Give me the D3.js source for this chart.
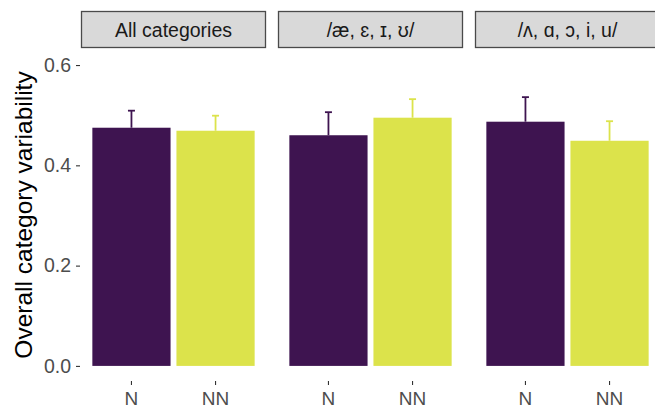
<!DOCTYPE html>
<html>
<head>
<meta charset="utf-8">
<script src="https://cdn.jsdelivr.net/npm/d3@7"></script>
<style>
  body { margin: 0; background: #fff; }
  svg { display: block; font-family: "Liberation Sans", Arial, sans-serif; }
</style>
</head>
<body>
<svg id="chart"></svg>
<script>
// facets and groups
const facets = ["All categories", "/æ, ɛ, ɪ, ʊ/", "/ʌ, ɑ, ɔ, i, u/"];
const groups = ["N", "NN"];
// mean variability per facet
const meanN = [0.475, 0.460, 0.487];
const meanNN = [0.469, 0.495, 0.449];
// upper end of error bars
const upperN = [0.509, 0.506, 0.536];
const upperNN = [0.499, 0.532, 0.488];
const yTicks = [0.0, 0.2, 0.4, 0.6];

const colors = { N: "#3e1450", NN: "#dce34b" };

var width = 655,
  height = 408;
var panelTop = 49,
  panelBottom = 381;

var svg = d3.select("#chart").attr("width", width).attr("height", height);

var fx = d3.scaleBand().domain(facets).range([81, 660]).paddingInner(12 / 197);
var x = d3
  .scaleBand()
  .domain(groups)
  .range([0, fx.bandwidth()])
  .paddingInner(0.07)
  .paddingOuter(0.135);
var y = d3.scaleLinear().domain([-0.0301, 0.632]).range([panelBottom, panelTop]);

var rows = [];
facets.forEach((f, i) => {
  rows.push({ facet: f, group: "N", mean: meanN[i], upper: upperN[i] });
  rows.push({ facet: f, group: "NN", mean: meanNN[i], upper: upperNN[i] });
});

// y axis
var yAxis = d3
  .axisLeft(y)
  .tickValues(yTicks)
  .tickFormat(d3.format(".1f"))
  .tickSize(4)
  .tickPadding(5);
var ya = svg
  .append("g")
  .attr("transform", "translate(80,0)")
  .call(yAxis);
ya.select(".domain").remove();
ya.selectAll("line").attr("stroke", "#333").attr("stroke-width", 1.1);
ya.selectAll("text")
  .attr("fill", "#4d4d4d")
  .style("font-size", "19.5px")
  .style("font-family", "Liberation Sans, Arial, sans-serif");

svg
  .append("text")
  .attr("transform", "translate(23," + (panelTop + panelBottom) / 2 + ") rotate(-90)")
  .attr("text-anchor", "middle")
  .attr("dominant-baseline", "central")
  .style("font-size", "24.5px")
  .attr("fill", "#000")
  .text("Overall category variability");

// panels
var panel = svg
  .selectAll(".panel")
  .data(facets)
  .enter()
  .append("g")
  .attr("class", "panel")
  .attr("transform", (d) => "translate(" + fx(d) + ",0)");

// strips
panel
  .append("rect")
  .attr("x", 0.5)
  .attr("y", 11.5)
  .attr("width", fx.bandwidth() - 1)
  .attr("height", 36)
  .attr("fill", "#d9d9d9")
  .attr("stroke", "#4a4a4a")
  .attr("stroke-width", 1.3);
panel
  .append("text")
  .attr("x", fx.bandwidth() / 2)
  .attr("y", 30)
  .attr("text-anchor", "middle")
  .attr("dominant-baseline", "central")
  .style("font-size", "19.5px")
  .attr("fill", "#1a1a1a")
  .text((d) => d);

// x axis per panel
panel.each(function () {
  var xa = d3
    .select(this)
    .append("g")
    .attr("transform", "translate(0," + panelBottom + ")")
    .call(d3.axisBottom(x).tickSize(4).tickPadding(7));
  xa.select(".domain").remove();
  xa.selectAll("line").attr("stroke", "#333").attr("stroke-width", 1.1);
  xa.selectAll("text")
    .attr("fill", "#4d4d4d")
    .style("font-size", "19px")
    .style("font-family", "Liberation Sans, Arial, sans-serif");
});

// bars
var bars = svg
  .selectAll(".bar")
  .data(rows)
  .enter()
  .append("g")
  .attr("class", "bar")
  .attr("transform", (d) => "translate(" + (fx(d.facet) + x(d.group)) + ",0)");

bars
  .append("line")
  .attr("x1", x.bandwidth() / 2)
  .attr("x2", x.bandwidth() / 2)
  .attr("y1", (d) => y(d.mean))
  .attr("y2", (d) => y(d.upper))
  .attr("stroke", (d) => colors[d.group])
  .attr("stroke-width", 1.8);
bars
  .append("line")
  .attr("x1", x.bandwidth() / 2 - 3.5)
  .attr("x2", x.bandwidth() / 2 + 3.5)
  .attr("y1", (d) => y(d.upper))
  .attr("y2", (d) => y(d.upper))
  .attr("stroke", (d) => colors[d.group])
  .attr("stroke-width", 1.8);

bars
  .append("rect")
  .attr("x", 0)
  .attr("width", x.bandwidth())
  .attr("y", (d) => y(d.mean))
  .attr("height", (d) => y(0) - y(d.mean))
  .attr("fill", (d) => colors[d.group]);
</script>
</body>
</html>
